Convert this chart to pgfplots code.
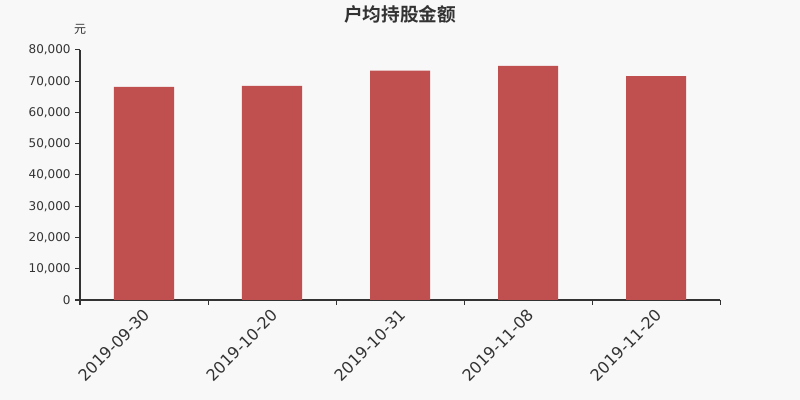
\documentclass[border=0pt]{standalone}
\usepackage{pgfplots}
\pgfplotsset{compat=1.18}
\usepackage{fontspec}
\setmainfont{DejaVu Sans}
\newfontfamily\cjk{Noto Sans CJK SC}
\newfontfamily\cjkbold{Noto Sans CJK SC Bold}
\definecolor{bg}{HTML}{F8F8F8}
\definecolor{barred}{HTML}{C0504F}
\definecolor{txt}{HTML}{333333}
\begin{document}
\begin{tikzpicture}
\useasboundingbox (0,0) rectangle (600pt,300pt);
\fill[bg] (0,0) rectangle (600pt,300pt);
\node[font=\cjkbold\fontsize{14pt}{16pt}\selectfont, text=txt] at (300pt,289.5pt) {户均持股金额};
\node[font=\cjk\fontsize{9pt}{10pt}\selectfont, text=txt] at (60pt,278pt) {元};
\begin{axis}[
    at={(60pt,75pt)}, anchor=south west,
    scale only axis, width=480pt, height=187.5pt,
    ybar, bar width=45pt,
    xmin=-0.5, xmax=4.5, ymin=0, ymax=80000,
    xtick={0,1,2,3,4},
    xticklabels={2019-09-30,2019-10-20,2019-10-31,2019-11-08,2019-11-20},
    minor xtick={-0.5,0.5,1.5,2.5,3.5,4.5},
    ytick={0,10000,...,80000},
    minor ytick={0,10000,...,80000},
    major tick length=0pt, minor tick length=3.75pt,
    tick align=outside,
    tick style={txt, line width=0.75pt},
    axis x line*=bottom, axis y line*=left,
    axis line style={-, txt, line width=0.75pt},
    scaled y ticks=false,
    /pgf/number format/.cd, fixed, 1000 sep={,}, assume math mode=true,
    /pgfplots/.cd,
    yticklabel style={font=\fontsize{9pt}{10pt}\selectfont, text=txt, xshift=-3.5pt},
    xticklabel style={font=\fontsize{12pt}{14pt}\selectfont, text=txt, rotate=45, anchor=north east, xshift=-1.5pt},
]
\addplot[fill=barred, draw=none] coordinates {(0,68200) (1,68500) (2,73400) (3,74900) (4,71600)};
\end{axis}
\end{tikzpicture}
\end{document}
